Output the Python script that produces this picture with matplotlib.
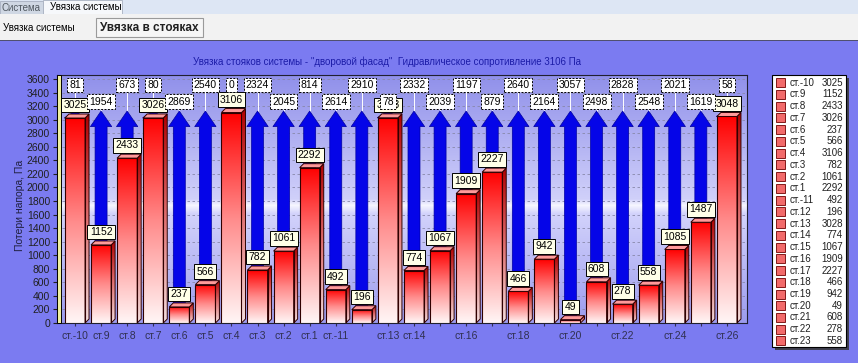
import numpy as np
import matplotlib
matplotlib.use('Agg')
import matplotlib.pyplot as plt
from matplotlib.patches import Rectangle, Polygon
from matplotlib.colors import LinearSegmentedColormap

plt.rcParams['font.family'] = ['Liberation Sans', 'DejaVu Sans']

# data
names = ['ст.-10', 'ст.9', 'ст.8', 'ст.7', 'ст.6', 'ст.5', 'ст.4', 'ст.3', 'ст.2', 'ст.1',
         'ст.-11', 'ст.12', 'ст.13', 'ст.14', 'ст.15', 'ст.16', 'ст.17', 'ст.18', 'ст.19',
         'ст.20', 'ст.21', 'ст.22', 'ст.23', 'ст.24', 'ст.25', 'ст.26']
losses = [3025, 1152, 2433, 3026, 237, 566, 3106, 782, 1061, 2292, 492, 196, 3028,
          774, 1067, 1909, 2227, 466, 942, 49, 608, 278, 558, 1085, 1487, 3048]
reserve = [81, 1954, 673, 80, 2869, 2540, 0, 2324, 2045, 814, 2614, 2910, 78,
           2332, 2039, 1197, 879, 2640, 2164, 3057, 2498, 2828, 2548, 2021, 1619, 58]
resistance = 3106
shown_ticks = ['ст.-10', 'ст.9', 'ст.8', 'ст.7', 'ст.6', 'ст.5', 'ст.4', 'ст.3', 'ст.2', 'ст.1',
               'ст.-11', 'ст.13', 'ст.14', 'ст.16', 'ст.18', 'ст.20', 'ст.22', 'ст.24', 'ст.26']
legend_count = 23
title = 'Увязка стояков системы - "дворовой фасад"  Гидравлическое сопротивление 3106 Па'

# label rows for the reserve callouts (0 = upper, 1 = lower)
reserve_row = [0, 1, 0, 0, 1, 0, 0, 0, 1, 0, 1, 0, 1, 0, 1, 0, 1, 0, 1, 0, 1, 0, 1, 0, 1, 0]

W, H = 858, 363


def fx(px):
    return px / W


def fy(py):
    return 1 - py / H


def frect(fig, x0, y0, x1, y1, **kw):
    r = Rectangle((fx(x0), fy(y1)), (x1 - x0) / W, (y1 - y0) / H,
                  transform=fig.transFigure, **kw)
    fig.add_artist(r)
    return r


fig = plt.figure(figsize=(W / 100, H / 100), dpi=100)
fig.patch.set_facecolor('#7b7bf1')

# window chrome: tabs + toolbar
frect(fig, 0, 0, W, 14, fc='#dde6f4', ec='none')
frect(fig, 0, 1, 43, 14, fc='#cfd7e3', ec='#a8b0c0', lw=0.6)
frect(fig, 43, 0, 122, 15, fc='#f6f8fb', ec='#a8b0c0', lw=0.6)
fig.text(fx(2), fy(8), 'Система', fontsize=7, color='#505860', va='center')
fig.text(fx(50), fy(7.5), 'Увязка системы', fontsize=7, color='black', va='center')
frect(fig, 0, 14, W, 40, fc='#f2f2f2', ec='none')
fig.text(fx(3), fy(28), 'Увязка системы', fontsize=7, color='black', va='center')
frect(fig, 96, 18.5, 203, 37, fc='#f6f6f6', ec='#9a9a9a', lw=0.8)
fig.text(fx(149.5), fy(28), 'Увязка в стояках', fontsize=8.5, fontweight='bold',
         color='#202020', ha='center', va='center')
frect(fig, 0, 39.5, W, 41, fc='#505070', ec='none')

fig.text(fx(387), fy(62), title, fontsize=7, color='#1c1ca8', ha='center', va='center')
fig.text(fx(20), fy(205), 'Потери напора, Па', fontsize=7.5, rotation=90,
         ha='center', va='center', color='#202040')

ax = fig.add_axes([fx(57), fy(323), 690 / W, 248 / H])
xmin, xmax, ymax = -0.69, 25.77, 3660
x = np.arange(len(names))

# plot background gradient
bg_cmap = LinearSegmentedColormap.from_list('bg', [(0, '#9c9cee'), (0.44, '#d2d2fb'),
                                                   (0.475, '#f6f6ff'), (0.50, '#d0d0fa'),
                                                   (1, '#9090ea')])
ax.imshow(np.linspace(0, 1, 256).reshape(-1, 1), extent=(xmin, xmax, 0, ymax),
          origin='lower', aspect='auto', cmap=bg_cmap, zorder=0)
for yv in range(200, 3601, 200):
    ax.axhline(yv, color='#8888aa', lw=0.6, ls=(0, (3, 3)), zorder=1)

# reserve arrows
shaft, head_w, head_l = 0.46, 0.82, 230
tip = 3128
for xi, v, r in zip(x, losses, reserve):
    if r <= 0:
        continue
    length = tip - v
    ax.arrow(xi, v, 0, length, width=shaft, head_width=head_w,
             head_length=min(head_l, length), length_includes_head=True,
             fc='#0505e8', ec='#0000a0', lw=0.5, zorder=2)

# bars with gradient and 3d faces
bar_w = 0.77
dx, dy = 0.153, 59
front = LinearSegmentedColormap.from_list('front', ['#fff6f6', '#ff8a8a', '#ff0000'])
side = LinearSegmentedColormap.from_list('side', ['#f4dede', '#e07070', '#b00000'])
grad = np.linspace(0, 1, 256).reshape(-1, 1)
bars = ax.bar(x, losses, width=bar_w, color='none', edgecolor='#300000', lw=0.8, zorder=3.2)
for b, v in zip(bars, losses):
    x0 = b.get_x()
    x1 = x0 + bar_w
    im = ax.imshow(grad, extent=(x0, x1, 0, v), origin='lower', aspect='auto',
                   cmap=front, zorder=3)
    im.set_clip_path(b)
    sp = Polygon([(x1, 0), (x1 + dx, dy), (x1 + dx, v + dy), (x1, v)], closed=True,
                 fc='none', ec='#300000', lw=0.7, zorder=3.2)
    ax.add_patch(sp)
    im2 = ax.imshow(grad, extent=(x1, x1 + dx, 0, v + dy), origin='lower', aspect='auto',
                    cmap=side, zorder=3)
    im2.set_clip_path(sp)
    ax.add_patch(Polygon([(x0, v), (x0 + dx, v + dy), (x1 + dx, v + dy), (x1, v)], closed=True,
                         fc='#ff9a9a', ec='#300000', lw=0.7, zorder=3.3))

# bar value labels
for xi, v in zip(x, losses):
    ax.text(xi, v + 190, str(v), ha='center', va='center', fontsize=7.5, zorder=5,
            bbox=dict(boxstyle='square,pad=0.22', fc='#ffffe8', ec='black', lw=0.7))

# reserve callouts
rows = [3515, 3268]
for xi, r, row in zip(x, reserve, reserve_row):
    ly = rows[row]
    ax.plot([xi, xi], [tip, ly], color='white', lw=0.7, zorder=1.5)
    ax.text(xi, ly, str(r), ha='center', va='center', fontsize=7.5, zorder=6,
            bbox=dict(boxstyle='square,pad=0.22', fc='white', ec='black', lw=0.7,
                      ls=(0, (2, 1.5))))

# left 3d wall
ax.add_patch(Rectangle((0, 0), 4 / 690, 1, transform=ax.transAxes, fc='#f0f0a0',
                       ec='black', lw=0.7, zorder=4, clip_on=False))

ax.set_xlim(xmin, xmax)
ax.set_ylim(0, ymax)
ax.set_yticks(range(0, 3601, 200))
ax.set_xticks(x)
ax.set_xticklabels([n if n in shown_ticks else '' for n in names])
ax.tick_params(axis='y', labelsize=7.5, length=3, pad=2, colors='#202020')
ax.tick_params(axis='x', labelsize=7.5, length=2, pad=4, colors='#303050')
for s in ['top', 'right', 'bottom', 'left']:
    ax.spines[s].set_color('#202030')
    ax.spines[s].set_linewidth(0.8)

# legend box (first 23 risers)
lx0, lx1, ly0, ly1 = 772, 846, 75, 347
frect(fig, lx0 + 3, ly0 + 3, lx1 + 3, ly1 + 3, fc='#404050', ec='none')
frect(fig, lx0, ly0, lx1, ly1, fc='white', ec='black', lw=0.8)
for i in range(legend_count):
    cy = 82.7 + 11.74 * i
    frect(fig, 776, cy - 4.5, 785, cy + 4.5, fc='#f26a6a', ec='#700000', lw=0.6)
    fig.text(fx(790), fy(cy), names[i], fontsize=7, va='center', color='#202020')
    fig.text(fx(843), fy(cy), str(losses[i]), fontsize=7, va='center', ha='right',
             color='#202020')

fig.savefig('out.png', dpi=100, facecolor=fig.get_facecolor())
